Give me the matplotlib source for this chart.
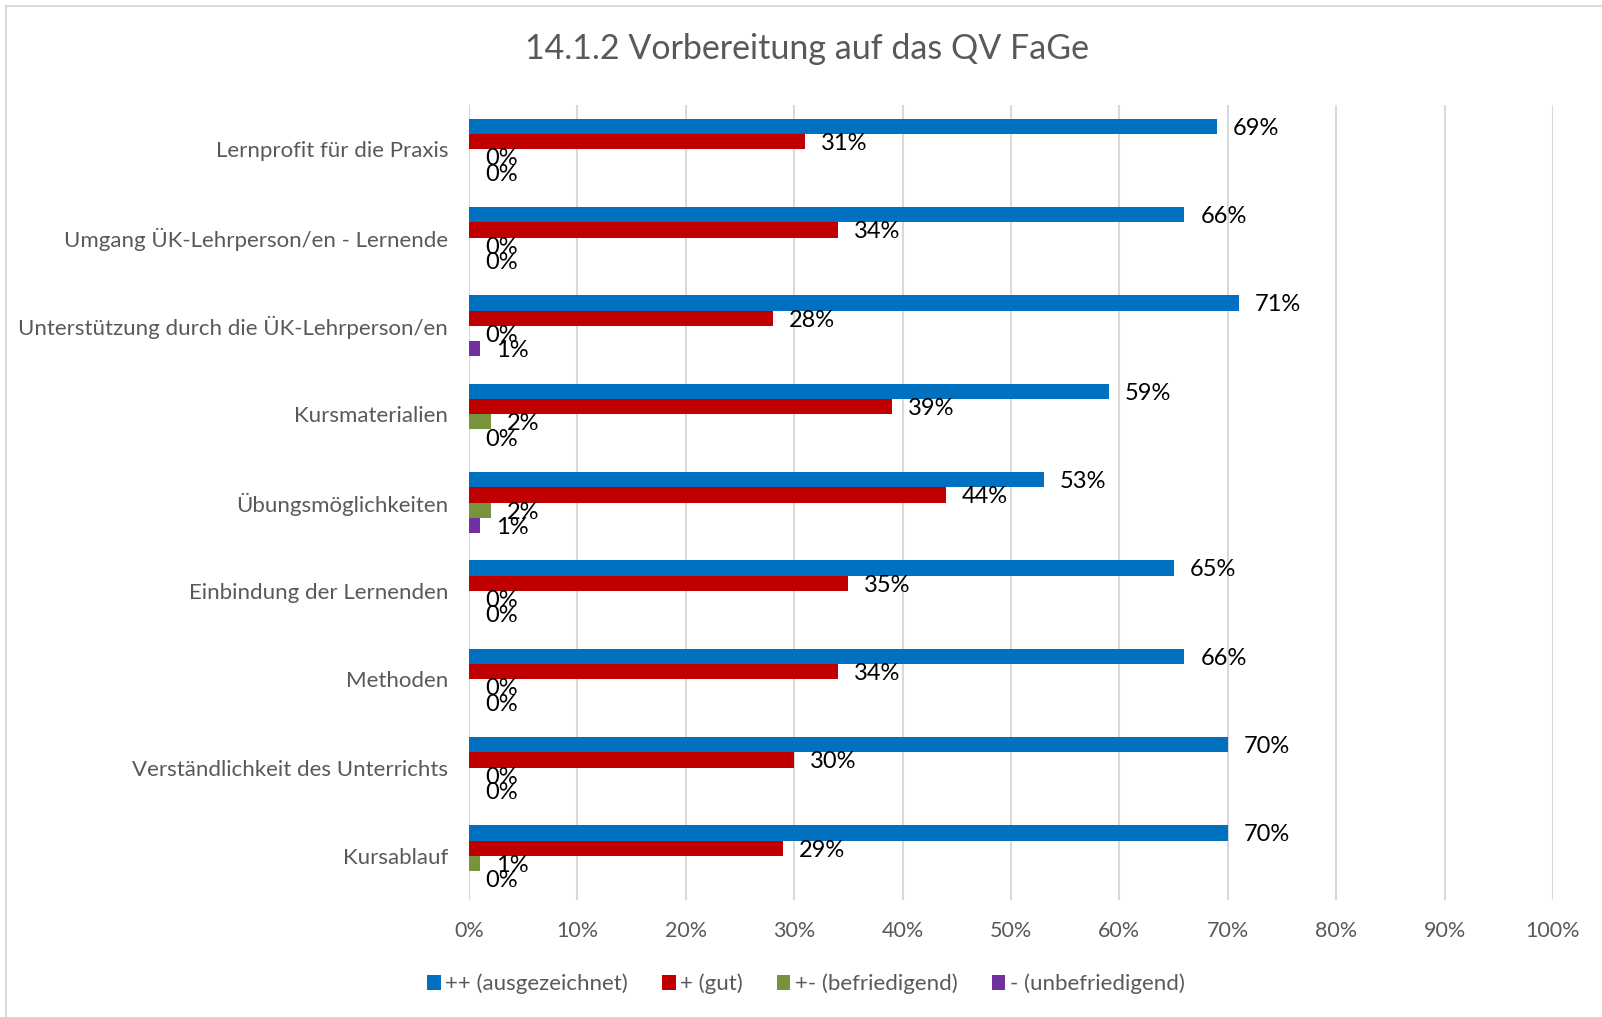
import matplotlib
matplotlib.use("Agg")
import matplotlib.pyplot as plt
from matplotlib.patches import Rectangle
import numpy as np

plt.rcParams['font.family'] = ['Lato', 'DejaVu Sans']

title = "14.1.2 Vorbereitung auf das QV FaGe"
categories = [
    "Lernprofit für die Praxis",
    "Umgang ÜK-Lehrperson/en - Lernende",
    "Unterstützung durch die ÜK-Lehrperson/en",
    "Kursmaterialien",
    "Übungsmöglichkeiten",
    "Einbindung der Lernenden",
    "Methoden",
    "Verständlichkeit des Unterrichts",
    "Kursablauf",
]
series_names = ["++ (ausgezeichnet)", "+ (gut)", "+- (befriedigend)", "- (unbefriedigend)"]
excellent = [69, 66, 71, 59, 53, 65, 66, 70, 70]
good = [31, 34, 28, 39, 44, 35, 34, 30, 29]
satisfactory = [0, 0, 0, 2, 2, 0, 0, 0, 1]
unsatisfactory = [0, 0, 1, 0, 1, 0, 0, 0, 0]
colors = ["#0070C0", "#C00000", "#77933C", "#7030A0"]
xticks = [0, 10, 20, 30, 40, 50, 60, 70, 80, 90, 100]

W, H = 1602, 1017
fig = plt.figure(figsize=(W / 100, H / 100), dpi=100)

# chart border (only top/left visible)
fig.patches.append(Rectangle((6 / W, -0.1), 1.2, (H - 6) / H + 0.1, transform=fig.transFigure,
                             fill=False, edgecolor="#D9D9D9", linewidth=1.5))

left, right, top, bottom = 469, 1553, 105, 900
ax = fig.add_axes([left / W, 1 - bottom / H, (right - left) / W, (bottom - top) / H])

data = [excellent, good, satisfactory, unsatisfactory]
n = len(categories)
y = np.arange(n)
bh = 0.173
for i, (vals, col, name) in enumerate(zip(data, colors, series_names)):
    pos = y - 1.5 * bh + i * bh
    ax.barh(pos, vals, height=bh, color=col, label=name, zorder=3)
    for p, v in zip(pos, vals):
        ax.annotate(f"{v}%", xy=(v, p), xytext=(11.5, -1.5), textcoords="offset points",
                    va="center", ha="left", fontsize=17, color="black", zorder=4)

ax.set_xlim(0, 100)
ax.set_ylim(n - 0.5, -0.5)
ax.set_xticks(xticks)
ax.set_xticklabels([f"{t}%" for t in xticks])
ax.set_yticks(y)
ax.set_yticklabels(categories)
ax.tick_params(axis="x", length=0, labelsize=15.5, colors="#595959", pad=15)
ax.tick_params(axis="y", length=0, labelsize=16, colors="#595959", pad=15)
ax.grid(axis="x", color="#D9D9D9", linewidth=1.5, zorder=0)
for s in ax.spines.values():
    s.set_visible(False)
ax.axvline(0, color="#D9D9D9", linewidth=1.5, zorder=1)

fig.text(807 / W, 1 - 49 / H, title, ha="center", va="center", fontsize=24.5, color="#595959")

handles, labels = ax.get_legend_handles_labels()
fig.legend(handles, labels, loc="center", bbox_to_anchor=(806 / W, 1 - 984 / H), ncol=4,
           frameon=False, fontsize=16, labelcolor="#595959", handlelength=0.6, handleheight=0.6,
           handletextpad=0.2, columnspacing=1.55)

fig.savefig("out.png", dpi=100)
